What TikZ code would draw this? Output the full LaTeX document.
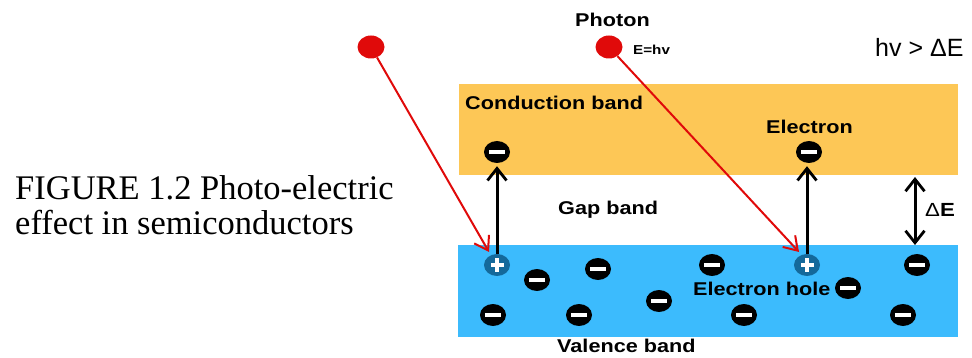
\documentclass[tikz,border=0pt]{standalone}
\usepackage{fontspec}
\setmainfont{Liberation Serif}
\newfontfamily\arb[FakeStretch=1.17]{Liberation Sans}
\newfontfamily\arn{Liberation Sans}
\usetikzlibrary{arrows.meta,shapes.geometric}
\definecolor{bandorange}{HTML}{FDC756}
\definecolor{bandblue}{HTML}{3CBBFD}
\definecolor{holeblue}{HTML}{14699B}
\definecolor{photonred}{HTML}{E00A0A}
\tikzset{
  eminus/.style={ellipse, fill=black, minimum width=26pt, minimum height=22pt, inner sep=0pt,
    path picture={\fill[white] ([xshift=-8pt,yshift=-2.2pt]path picture bounding box.center) rectangle ([xshift=8pt,yshift=2.2pt]path picture bounding box.center);}},
  hplus/.style={ellipse, fill=holeblue, minimum width=26pt, minimum height=22pt, inner sep=0pt,
    path picture={\fill[white] ([xshift=-6.5pt,yshift=-1.8pt]path picture bounding box.center) rectangle ([xshift=6.5pt,yshift=1.8pt]path picture bounding box.center);
                  \fill[white] ([xshift=-1.8pt,yshift=-6.5pt]path picture bounding box.center) rectangle ([xshift=1.8pt,yshift=6.5pt]path picture bounding box.center);}},
  photon/.style={ellipse, fill=photonred, minimum width=27pt, minimum height=23pt, inner sep=0pt},
  lbl/.style={anchor=west, inner sep=0pt, font=\arb\bfseries\fontsize{18.5}{20}\selectfont},
  redarrow/.style={draw=photonred, line width=2pt, -{Straight Barb[length=13pt,width=17pt,line width=2pt]}},
  blkarrow/.style={draw=black, line width=3pt, -{Straight Barb[length=12pt,width=19pt,line width=2.8pt]}},
  captext/.style={anchor=base west, inner sep=0pt, font=\fontsize{34.5}{36}\selectfont}
}
\begin{document}
\begin{tikzpicture}[x=1pt,y=-1pt]
\useasboundingbox (0,0) rectangle (972,358);
% bands
\fill[bandorange] (459,84) rectangle (958,175);
\fill[bandblue] (458,245) rectangle (958,337);
% caption
\node[captext] (cap1) at (15,200) {FIGURE 1.2 Photo-electric};
\node[captext] (cap2) at (15,235) {effect in semiconductors};
% top labels
\node[lbl] (photonlbl) at (575,20) {Photon};
\node[anchor=west, inner sep=0pt, font=\arb\bfseries\fontsize{13}{14}\selectfont] (ehv) at (633,50) {E=hv};
\node[anchor=west, inner sep=0pt, font=\arn\fontsize{25}{27}\selectfont] (cond) at (875,47) {hv > ΔE};
% photons
\node[photon] (p1) at (371,47) {};
\node[photon] (p2) at (609,47) {};
% band labels
\node[lbl] (cb) at (465,103) {Conduction band};
\node[lbl] (el) at (766,127) {Electron};
\node[lbl] (gap) at (558,210) {Gap band};
\node[lbl, font=\arb\fontsize{19}{20}\selectfont] (de) at (925,210) {Δ\textbf{E}};
\node[lbl] (eh) at (693,289) {Electron hole};
\node[lbl] (vb) at (557,346) {Valence band};
% excited electrons
\node[eminus] (e1) at (497,152) {};
\node[eminus] (e2) at (809,152) {};
% holes
\node[hplus] (h1) at (497,265) {};
\node[hplus] (h2) at (807,265) {};
% valence electrons
\node[eminus] (v1) at (537,280) {};
\node[eminus] (v2) at (598,269) {};
\node[eminus] (v3) at (493,315) {};
\node[eminus] (v4) at (579,315) {};
\node[eminus] (v5) at (659,301) {};
\node[eminus] (v6) at (712,265) {};
\node[eminus] (v7) at (917,265) {};
\node[eminus] (v8) at (848,288) {};
\node[eminus] (v9) at (744,315) {};
\node[eminus] (v10) at (903,315) {};
% photon paths
\coordinate (t1) at (489,252);
\coordinate (t2) at (799,252);
\draw[redarrow] (p1) -- (t1);
\draw[redarrow] (p2) -- (t2);
% excitation arrows
\draw[blkarrow, shorten >=3pt] (h1) -- (e1);
\draw[blkarrow, shorten >=3pt] (h2.north) -- (h2.north |- e2.south);
% gap arrow
\coordinate (g1) at (915,177);
\coordinate (g2) at (915,245);
\draw[blkarrow, {Straight Barb[length=12pt,width=19pt,line width=2.8pt]}-{Straight Barb[length=12pt,width=19pt,line width=2.8pt]}] (g1) -- (g2);
\end{tikzpicture}
\end{document}
